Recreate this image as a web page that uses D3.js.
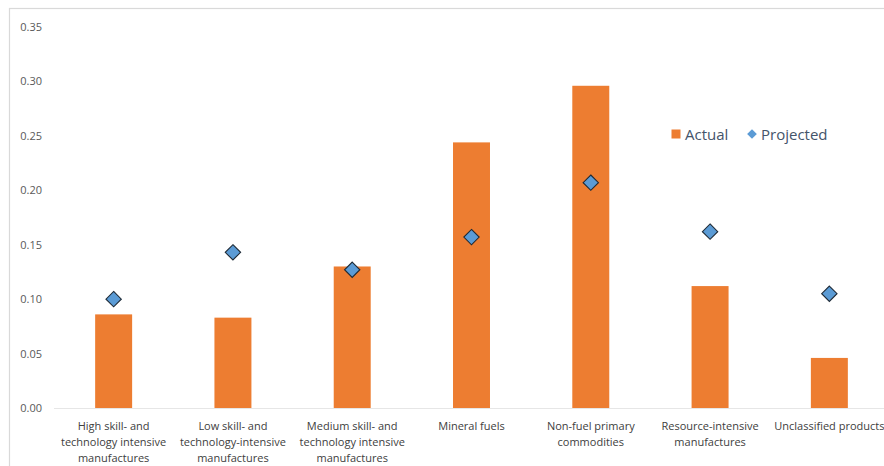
<!DOCTYPE html>
<html>
<head>
<meta charset="utf-8">
<script src="https://cdn.jsdelivr.net/npm/d3@7"></script>
<style>
  html, body { margin: 0; padding: 0; background: #fff; }
  svg { display: block; }
</style>
</head>
<body>
<div id="chart"></div>
<script>
// Export shares by product group: actual vs projected
const categories = [
  ["High skill- and", "technology intensive", "manufactures"],
  ["Low skill- and", "technology-intensive", "manufactures"],
  ["Medium skill- and", "technology intensive", "manufactures"],
  ["Mineral fuels"],
  ["Non-fuel primary", "commodities"],
  ["Resource-intensive", "manufactures"],
  ["Unclassified products"]
];
const actual    = [0.086, 0.083, 0.130, 0.244, 0.296, 0.112, 0.046];
const projected = [0.100, 0.143, 0.127, 0.157, 0.207, 0.162, 0.105];
const yTicks = [0, 0.05, 0.10, 0.15, 0.20, 0.25, 0.30, 0.35];
const seriesNames = ["Actual", "Projected"];

const W = 884, H = 466;
const margin = { left: 54, right: -5, top: 27, bottom: 58 };

const svg = d3.select("#chart").append("svg")
  .attr("width", W).attr("height", H);

// chart frame
svg.append("rect")
  .attr("x", 9.5).attr("y", 8.5)
  .attr("width", W + 20).attr("height", H - 8.5 + 20)
  .attr("fill", "none").attr("stroke", "#d9d9d9").attr("stroke-width", 1.2);

const x = d3.scaleBand()
  .domain(d3.range(categories.length))
  .range([margin.left, W - margin.right])
  .paddingInner(0.69).paddingOuter(0.345);

const y = d3.scaleLinear()
  .domain([0, 0.35])
  .range([408, 27]);

const font = "'Open Sans', 'Noto Sans', sans-serif";

// y axis labels
const yAxis = d3.axisLeft(y).tickValues(yTicks).tickFormat(d3.format(".2f")).tickSize(0).tickPadding(0);
const gy = svg.append("g").attr("transform", "translate(42,0)").call(yAxis);
gy.select(".domain").remove();
gy.selectAll("text")
  .attr("fill", "#595959").attr("font-family", font).attr("font-size", 11);

// baseline
svg.append("line")
  .attr("x1", margin.left).attr("x2", W)
  .attr("y1", y(0) + 0.5).attr("y2", y(0) + 0.5)
  .attr("stroke", "#e6e6e6").attr("stroke-width", 1);

// bars
svg.append("g").selectAll("rect")
  .data(actual)
  .join("rect")
  .attr("x", (d, i) => x(i))
  .attr("width", x.bandwidth())
  .attr("y", d => y(d))
  .attr("height", d => y(0) - y(d))
  .attr("fill", "#ED7D31");

// projected markers
const diamond = d3.symbol().type(d3.symbolDiamond2).size(150);
svg.append("g").selectAll("path")
  .data(projected)
  .join("path")
  .attr("d", diamond)
  .attr("transform", (d, i) => `translate(${x(i) + x.bandwidth() / 2},${y(d)})`)
  .attr("fill", "#5B9BD5")
  .attr("stroke", "#1e2a36")
  .attr("stroke-width", 1.1);

// category labels
const xl = svg.append("g");
categories.forEach((lines, i) => {
  const t = xl.append("text")
    .attr("x", x(i) + x.bandwidth() / 2)
    .attr("y", 430)
    .attr("text-anchor", "middle")
    .attr("fill", "#404040")
    .attr("font-family", font)
    .attr("font-size", 11);
  lines.forEach((ln, j) => {
    t.append("tspan")
      .attr("x", x(i) + x.bandwidth() / 2)
      .attr("dy", j === 0 ? 0 : 16.2)
      .text(ln);
  });
});

// legend
const lg = svg.append("g").attr("font-family", font).attr("font-size", 15).attr("fill", "#44546A");
lg.append("rect").attr("x", 671.5).attr("y", 129.5).attr("width", 9).attr("height", 9).attr("fill", "#ED7D31");
lg.append("text").attr("x", 685).attr("y", 139.5).text(seriesNames[0]);
lg.append("path")
  .attr("d", d3.symbol().type(d3.symbolDiamond2).size(60))
  .attr("transform", "translate(752,134)")
  .attr("fill", "#5B9BD5");
lg.append("text").attr("x", 761).attr("y", 139.5).text(seriesNames[1]);
</script>
</body>
</html>
